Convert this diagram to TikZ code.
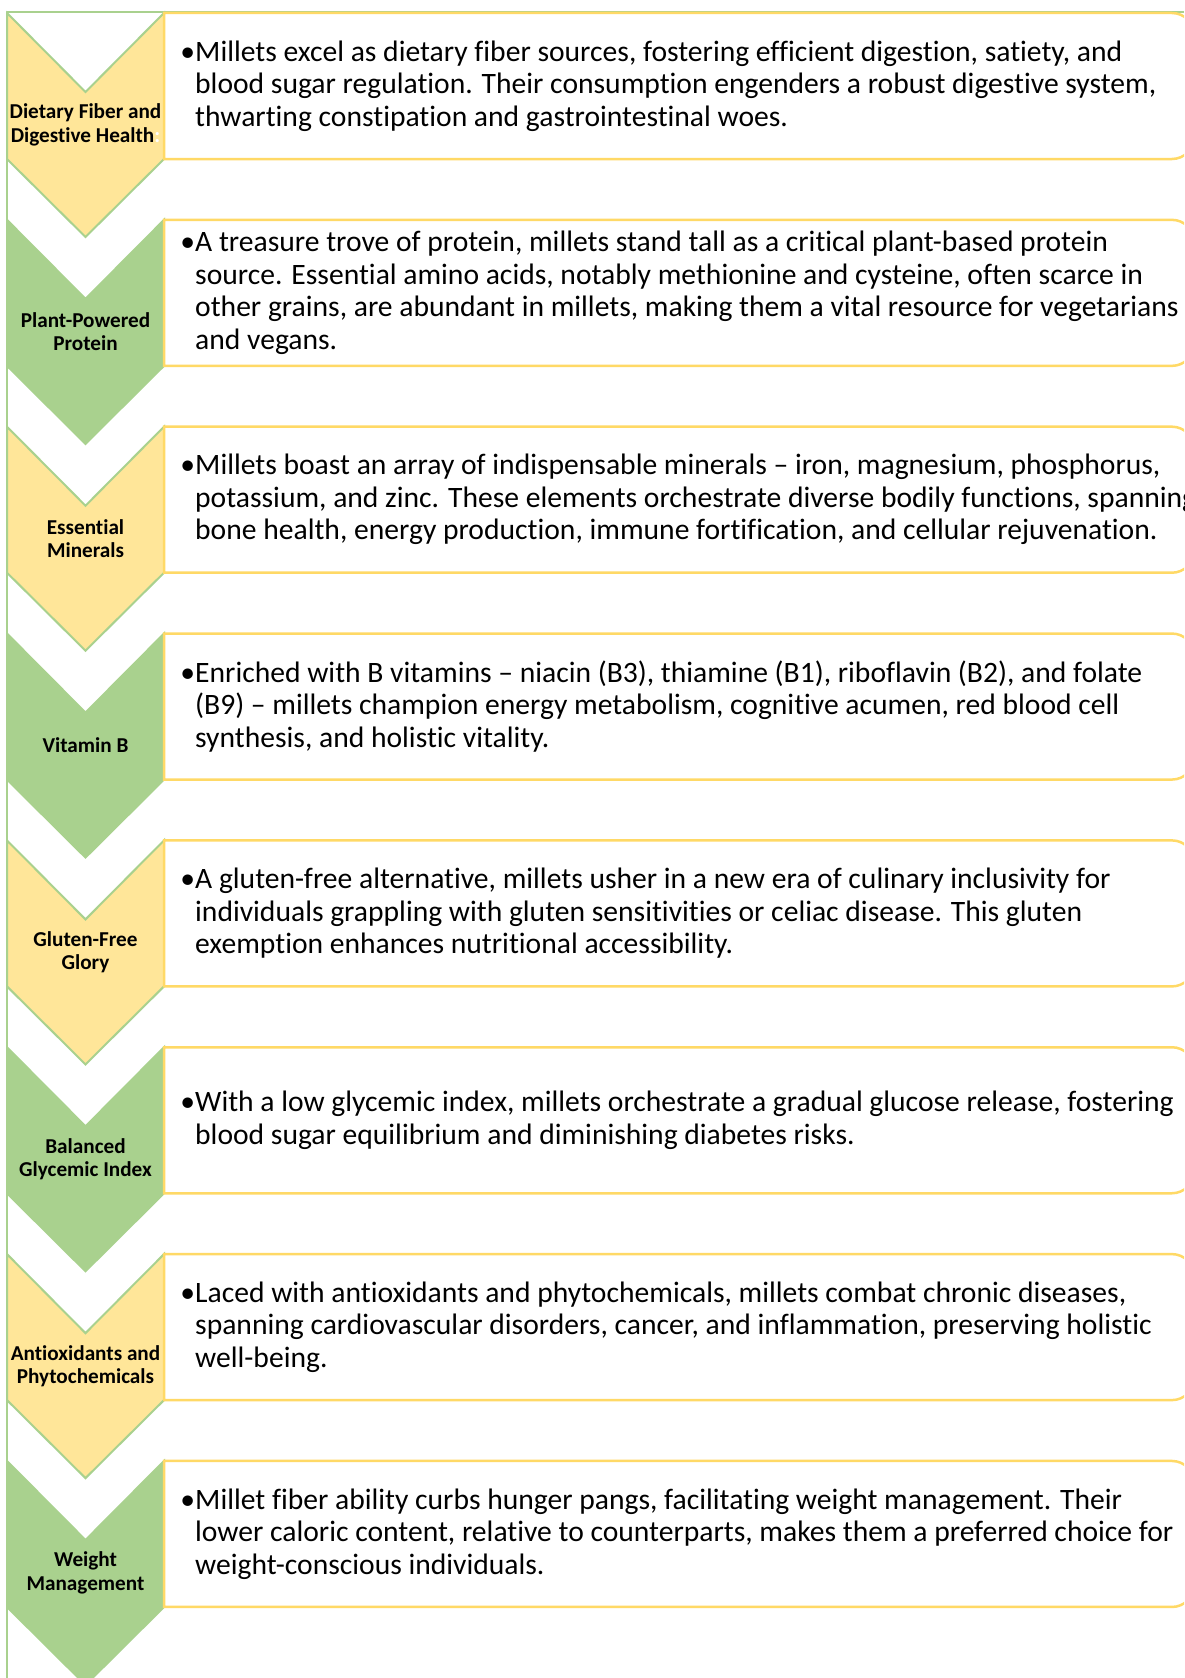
\documentclass[tikz,border=0pt]{standalone}
\usepackage{fontspec}
\setmainfont{Carlito}[Ligatures={NoCommon}]
\definecolor{chy}{HTML}{FFE699}
\definecolor{chg}{HTML}{A9D18E}
\definecolor{chl}{HTML}{A9D18E}
\definecolor{boxl}{HTML}{FFD966}
\tikzset{
  chev/.style={draw=chl,line width=2pt,line join=miter},
  boxshape/.style={draw=boxl,fill=white,line width=2.5pt},
  labtext/.style={font=\fontsize{21.2}{23.5}\selectfont\bfseries,align=center,inner sep=0pt,text=black},
  bodytext/.style={font=\fontsize{29.6}{32.5}\selectfont,align=left,anchor=west,inner sep=0pt,text=black},
  frameline/.style={draw=chl,line width=1.5pt}
}
\newcommand\chrow[5]{%
  \pgfmathsetmacro\T{13+206.85*#1}
  \path[chev,fill=#2] (7,\T) -- ++(78.5,79) -- ++(78.5,-79) -- ++(0,146) -- ++(-78.5,78) -- ++(-78.5,-78) -- cycle;
  \path[boxshape] (164,\T) -- (1172,\T) arc[start angle=-90,end angle=0,radius=22] -- (1194,\T+124) arc[start angle=0,end angle=90,radius=22] -- (164,\T+146) -- cycle;
  \node[labtext] (lab#5) at (85.5,\T+112) {#3};
  \node[bodytext] (txt#5) at (195,\T+73) {#4};
}
\begin{document}
\begin{tikzpicture}[x=1pt,y=-1pt]
\useasboundingbox (0,0) rectangle (1184,1678);
\clip (0,0) rectangle (1184,1678);
\fill[white] (0,0) rectangle (1184,1678);
\draw[frameline] (7,12) -- (1184,12);
\draw[frameline] (7,12) -- (7,1678);
\chrow{0}{chy}{Dietary Fiber and\\Digestive Health{\color{white}:}}{\llap{•}Millets excel as dietary fiber sources, fostering efficient digestion, satiety, and\\blood sugar regulation. Their consumption engenders a robust digestive system,\\thwarting constipation and gastrointestinal woes.}{a}
\chrow{1}{chg}{Plant-Powered\\Protein}{\llap{•}A treasure trove of protein, millets stand tall as a critical plant-based protein\\source. Essential amino acids, notably methionine and cysteine, often scarce in\\other grains, are abundant in millets, making them a vital resource for vegetarians\\and vegans.}{b}
\chrow{2}{chy}{Essential\\Minerals}{\llap{•}Millets boast an array of indispensable minerals – iron, magnesium, phosphorus,\\potassium, and zinc. These elements orchestrate diverse bodily functions, spanning\\bone health, energy production, immune fortification, and cellular rejuvenation.}{c}
\chrow{3}{chg}{Vitamin B}{\llap{•}Enriched with B vitamins – niacin (B3), thiamine (B1), riboflavin (B2), and folate\\(B9) – millets champion energy metabolism, cognitive acumen, red blood cell\\synthesis, and holistic vitality.}{d}
\chrow{4}{chy}{Gluten-Free\\Glory}{\llap{•}A gluten-free alternative, millets usher in a new era of culinary inclusivity for\\individuals grappling with gluten sensitivities or celiac disease. This gluten\\exemption enhances nutritional accessibility.}{e}
\chrow{5}{chg}{Balanced\\Glycemic Index}{\llap{•}With a low glycemic index, millets orchestrate a gradual glucose release, fostering\\blood sugar equilibrium and diminishing diabetes risks.}{f}
\chrow{6}{chy}{Antioxidants and\\Phytochemicals}{\llap{•}Laced with antioxidants and phytochemicals, millets combat chronic diseases,\\spanning cardiovascular disorders, cancer, and inflammation, preserving holistic\\well-being.}{g}
\chrow{7}{chg}{Weight\\Management}{\llap{•}Millet fiber ability curbs hunger pangs, facilitating weight management. Their\\lower caloric content, relative to counterparts, makes them a preferred choice for\\weight-conscious individuals.}{h}
\end{tikzpicture}
\end{document}
